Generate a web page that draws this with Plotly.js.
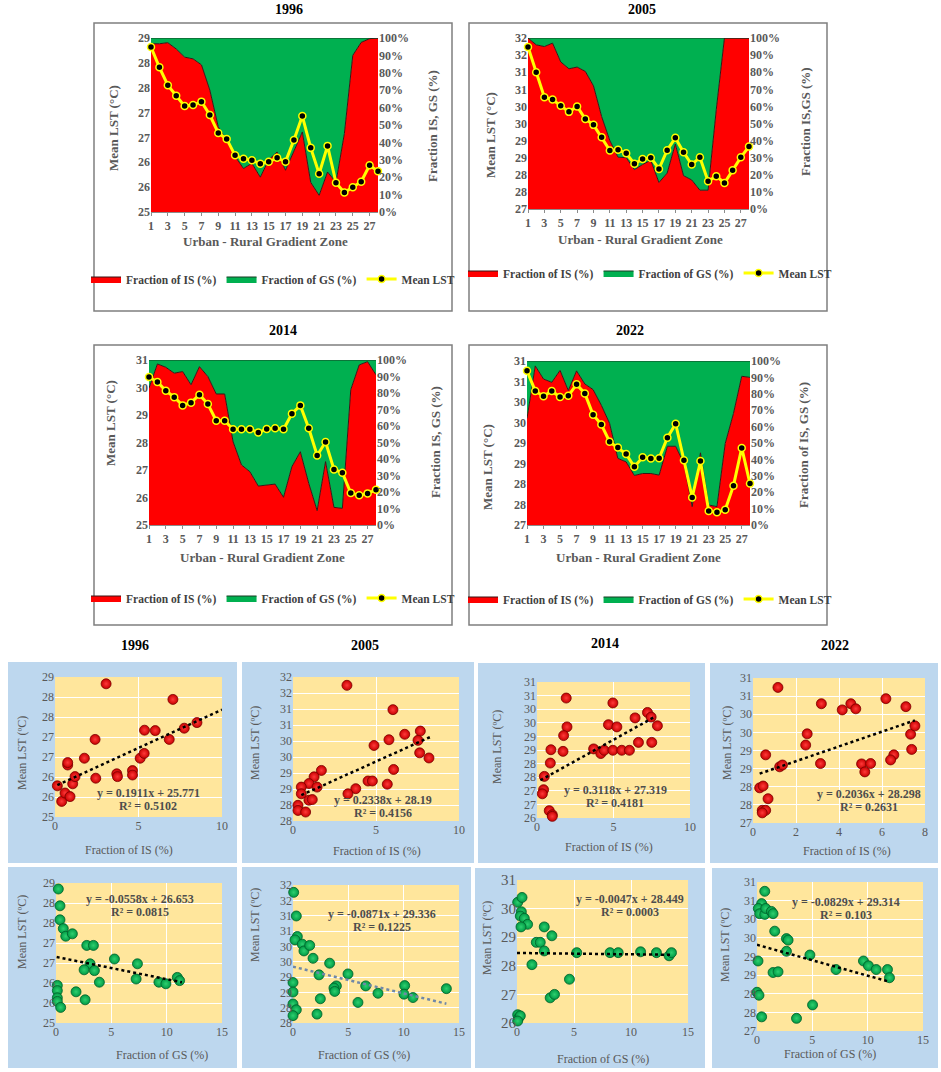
<!DOCTYPE html>
<html><head><meta charset="utf-8">
<script src="https://cdn.plot.ly/plotly-3.0.1.min.js"></script>
<style>html,body{margin:0;padding:0;background:#fff}#chart{width:941px;height:1072px}</style>
</head><body><div id="chart"></div>
<script>
// ---------------- DATA ----------------
const zones = [1,2,3,4,5,6,7,8,9,10,11,12,13,14,15,16,17,18,19,20,21,22,23,24,25,26,27,28];
const zoneTicks = [1,3,5,7,9,11,13,15,17,19,21,23,25,27];
const pctTicks = [0,10,20,30,40,50,60,70,80,90,100];

const lst1996 = [28.32,27.91,27.55,27.34,27.13,27.15,27.22,26.95,26.59,26.47,26.14,26.07,26.04,25.97,26.01,26.09,26.01,26.45,26.93,26.29,25.77,26.33,25.59,25.39,25.50,25.61,25.94,25.82];
const is1996  = [96.7,96.7,97.3,93.7,89,88,84.6,70,49,41,32,25,28,20,30,34.5,24,35.5,46,17,9.6,23,17,45,90,97.5,99.6,100];
const lst2005 = [31.74,31.0,30.27,30.2,30.02,29.84,30.0,29.63,29.46,29.1,28.71,28.73,28.63,28.32,28.46,28.5,28.17,28.72,29.08,28.66,28.3,28.51,27.81,27.96,27.76,28.13,28.51,28.83];
const is2005  = [100,96,95,97,86,82,83,80.5,72,54,40,30.3,30,23,26,28.5,15.5,21,38,19.5,17,11,11,58,100,100,100,100];
const lst2014 = [30.38,30.2,29.88,29.65,29.35,29.45,29.74,29.4,28.79,28.79,28.48,28.48,28.48,28.36,28.49,28.52,28.48,29.05,29.35,28.52,27.53,28.02,27.02,26.9,26.16,26.08,26.15,26.28];
const is2014  = [83,97.6,95.6,92,93,85,96,90,79.4,79.4,50.5,36.4,32.3,23.6,24.2,24.8,16.8,35.4,44.4,25.3,8.7,38.4,10.7,10.1,82,97,99,91];
const lst2022 = [30.76,30.27,30.14,30.27,30.12,30.15,30.43,30.21,29.69,29.45,29.03,28.89,28.73,28.42,28.65,28.62,28.63,29.13,29.47,28.58,27.67,28.56,27.34,27.31,27.37,27.96,28.88,28.01];
const is2022  = [65,97,89,87,94.3,82,94,86,82.6,73,62,40.6,38.5,30.2,31.4,31.4,30.4,48,48,37.5,11.2,44,12.2,11.2,49.7,68,90.7,90];

const lstTicks1996 = [25,25.5,26,26.5,27,27.5,28,28.5];
const lstLabels1996 = ['25','26','26','27','27','28','28','29'];
const lstTicks2005 = [27,27.5,28,28.5,29,29.5,30,30.5,31,31.5,32];
const lstLabels2005 = ['27','28','28','29','29','30','30','31','31','32','32'];
const lstTicks2014 = [25,26,27,28,29,30,31];
const lstLabels2014 = ['25','26','27','28','29','30','31'];
const lstTicks2022 = [27,27.5,28,28.5,29,29.5,30,30.5,31];
const lstLabels2022 = ['27','28','28','29','29','30','30','31','31'];
const scTicks2005 = [27.5,28,28.5,29,29.5,30,30.5,31,31.5,32];
const scLabels2005 = ['28','28','29','29','30','30','31','31','32','32'];
const scTicks2014 = [26,26.5,27,27.5,28,28.5,29,29.5,30,30.5,31];
const scLabels2014 = ['26','27','27','28','28','29','29','30','30','31','31'];

// scatter: Fraction of IS vs Mean LST
const is96x = [0.14,0.4,0.6,0.76,0.76,0.9,1.06,1.2,1.76,2.4,2.44,3.06,3.7,3.74,4.64,4.64,5.1,5.34,5.36,6.0,6.84,7.06,7.74,8.5];
const is96y = [25.78,25.39,25.6,26.3,26.36,25.51,25.83,26.01,26.47,26.94,25.97,28.33,26.08,26.01,26.16,26.05,26.47,26.59,27.17,27.16,26.94,27.94,27.22,27.36];
const is05x = [3.25,6.02,7.67,6.73,5.78,7.53,4.88,7.63,8.19,1.71,6.06,1.27,0.96,0.5,1.45,4.52,4.78,5.68,3.78,3.31,0.5,0.96,1.16,0.3,0.3,0.76];
const is05y = [31.74,30.98,30.31,30.21,30.04,30.02,29.86,29.63,29.47,29.08,29.11,28.88,28.67,28.56,28.56,28.75,28.75,28.65,28.51,28.35,28.35,28.15,28.17,27.99,27.83,27.78];
const is14x = [1.91,1.96,1.74,1.7,0.91,0.87,0.48,0.43,0.35,0.8,1.0,1.0,4.96,4.67,5.22,3.7,4.17,4.39,4.96,5.54,6.04,6.41,6.63,7.22,7.46,7.5,7.87];
const is14y = [30.41,29.35,29.03,28.45,28.51,28.02,27.53,27.04,26.89,26.27,26.12,26.06,30.23,29.43,29.35,28.54,28.37,28.49,28.49,28.49,28.49,29.68,28.78,29.88,29.71,28.78,29.39];
const is22x = [1.16,6.18,3.18,4.55,4.15,4.78,7.11,2.52,2.45,7.33,7.53,7.38,6.55,6.4,0.59,1.24,1.37,3.14,5.05,5.47,5.2,0.31,0.47,0.7,0.43,0.59,0.43];
const is22y = [30.74,30.43,30.29,30.29,30.12,30.15,30.21,29.46,29.15,29.45,29.68,29.03,28.88,28.74,28.88,28.55,28.6,28.64,28.63,28.64,28.41,27.97,28.02,27.67,27.35,27.35,27.28];
// scatter: Fraction of GS vs Mean LST
const gs96x = [0.21,0.36,0.36,0.66,0.88,1.48,2.78,3.38,3.08,2.54,3.47,3.92,5.28,7.36,7.24,9.3,9.93,10.96,11.17,0.12,0.12,0.12,0.12,0.42,1.81,2.63];
const gs96y = [28.35,27.93,27.58,27.36,27.17,27.23,26.94,26.94,26.48,26.33,26.31,26.02,26.6,26.48,26.1,26.02,25.98,26.14,26.06,25.94,25.81,25.63,25.54,25.39,25.78,25.58];
const gs05x = [0.06,0.3,0.39,0.18,0.84,0.99,1.51,1.81,3.31,2.35,4.97,3.92,3.7,3.77,6.57,7.68,10.09,10.03,10.84,13.86,2.47,5.87,2.17,0,0,0,0.3,0];
const gs05y = [31.76,30.99,30.32,30.21,30.07,29.85,30.03,29.61,29.45,29.07,29.1,28.71,28.64,28.53,28.71,28.47,28.72,28.44,28.33,28.62,28.29,28.17,27.79,28.82,28.51,28.12,27.93,27.74];
const gs14x = [0.06,0.44,0.38,0.29,0.64,0.93,0.35,2.39,3.06,1.69,2.04,2.39,1.31,4.6,2.91,3.29,5.24,8.16,8.88,10.84,12.23,13.34,13.55,0.06,0.15,0.29,0.06];
const gs14y = [30.22,30.39,29.89,29.74,29.66,29.45,29.36,29.36,29.05,28.82,28.82,28.52,28.04,27.53,26.88,27.0,28.46,28.46,28.46,28.49,28.46,28.35,28.46,26.29,26.18,26.25,26.07];
const gs22x = [0.7,0.42,0.12,0.24,0.7,0.79,1.3,1.45,1.6,2.66,2.81,2.66,4.78,7.14,9.62,10.07,10.77,11.79,11.97,1.45,1.9,0.09,0,0.18,0.42,3.57,5.02];
const gs22y = [30.75,30.42,30.29,30.15,30.13,30.29,30.21,30.15,29.68,29.48,29.44,29.14,29.04,28.65,28.88,28.75,28.65,28.65,28.43,28.57,28.59,28.88,28.04,27.96,27.38,27.34,27.7];

// trendline equations (as printed) and their x extents
const slopes     = [0.1911, 0.2338, 0.3118, 0.2036, -0.0558, -0.0871, -0.0047, -0.0829];
const intercepts = [25.771, 28.19, 27.319, 28.298, 26.653, 29.336, 28.449, 29.314];
const r2Texts    = ['0.5102','0.4156','0.4181','0.2631','0.0815','0.1225','0.0003','0.103'];
const trendX     = [[0.14,10],[0.5,8.3],[0.22,7.72],[0.31,7.53],[0.06,11.38],[0,13.86],[0,13.55],[0,11.97]];

// ---------------- LAYOUT HELPERS ----------------
const SERIF = 'Liberation Serif, Times New Roman, serif';
const W = 941, H = 1072;
const fx = v => v / W;
const fy = v => 1 - v / H;
const axn = (p, n) => (n === 1 ? p : p + n);

const areaCharts = [
  {year:'1996', lst:lst1996, is:is1996, range:[25,28.5], ticks:lstTicks1996, labels:lstLabels1996, right:'Fraction IS, GS (%)',
   plot:[151,378,38,212], box:[94,452,23,311], title:[289,10], lt:[113,128], rt:[433,126], xt:[265,241], leg:[273,279]},
  {year:'2005', lst:lst2005, is:is2005, range:[27,32], ticks:lstTicks2005, labels:lstLabels2005, right:'Fraction IS,GS (%)',
   plot:[528,749,38,209], box:[469,827,23,311], title:[642,10], lt:[490,135], rt:[805,122], xt:[640,240], leg:[650,273]},
  {year:'2014', lst:lst2014, is:is2014, range:[25,31], ticks:lstTicks2014, labels:lstLabels2014, right:'Fraction IS, GS (%)',
   plot:[149,376,360,525], box:[94,452,345,625], title:[283,331], lt:[110,423], rt:[435,442], xt:[262,557], leg:[273,598]},
  {year:'2022', lst:lst2022, is:is2022, range:[27,31], ticks:lstTicks2022, labels:lstLabels2022, right:'Fraction of IS, GS (%)',
   plot:[527,750,361,525], box:[469,827,345,625], title:[630,331], lt:[488,467], rt:[803,445], xt:[638,557], leg:[650,599]}
];

const scatters = [
  {x:is96x, y:is96y, kind:'IS', xr:[0,10], xt:[0,5,10], yr:[25,28.5], yt:lstTicks1996, yl:lstLabels1996,
   plot:[55,222,677,817], panel:[8,237,662,863], title:['1996',135,645], eq:[148,793], xtl:[129,850], ytl:[22,753], tc:'#000'},
  {x:is05x, y:is05y, kind:'IS', xr:[0,10], xt:[0,5,10], yr:[27.5,32], yt:scTicks2005, yl:scLabels2005,
   plot:[293,459,677,821], panel:[242,474,662,863], title:['2005',365,645], eq:[383,800], xtl:[377,851], ytl:[255,743], tc:'#000'},
  {x:is14x, y:is14y, kind:'IS', xr:[0,10], xt:[0,5,10], yr:[26,31], yt:scTicks2014, yl:scLabels2014,
   plot:[537,690,682,818], panel:[478,705,663,863], title:['2014',605,643], eq:[615,790], xtl:[609,847], ytl:[497,747], tc:'#000'},
  {x:is22x, y:is22y, kind:'IS', xr:[0,8], xt:[0,2,4,6,8], yr:[27,31], yt:lstTicks2022, yl:lstLabels2022,
   plot:[753,925,678,823], panel:[710,938,663,863], title:['2022',835,645], eq:[869,794], xtl:[847,851], ytl:[727,743], tc:'#000'},
  {x:gs96x, y:gs96y, kind:'GS', xr:[0,15], xt:[0,5,10,15], yr:[25,28.5], yt:lstTicks1996, yl:lstLabels1996,
   plot:[56,222,883,1023], panel:[8,237,867,1068], eq:[140,899], xtl:[162,1055], ytl:[22,932], tc:'#000'},
  {x:gs05x, y:gs05y, kind:'GS', xr:[0,15], xt:[0,5,10,15], yr:[27.5,32], yt:scTicks2005, yl:scLabels2005,
   plot:[293,459,885,1023], panel:[242,471,867,1068], eq:[382,914], xtl:[364,1055], ytl:[255,925], tc:'#7088A8'},
  {x:gs14x, y:gs14y, kind:'GS', xr:[0,15], xt:[0,5,10,15], yr:[26,31], yt:lstTicks2014.slice(1), yl:lstLabels2014.slice(1),
   plot:[517,688,880,1023], panel:[475,705,868,1068], eq:[630,899], xtl:[603,1059], ytl:[487,938], tc:'#000', ytsize:15},
  {x:gs22x, y:gs22y, kind:'GS', xr:[0,15], xt:[0,5,10,15], yr:[27,31], yt:lstTicks2022, yl:lstLabels2022,
   plot:[757,923,882,1031], panel:[712,938,868,1068], eq:[846,902], xtl:[830,1054], ytl:[725,945], tc:'#000'}
];

const traces = [];
const shapes = [];
const annotations = [];
const layout = {
  width: W, height: H, margin: {l:0, r:0, t:0, b:0},
  paper_bgcolor: '#ffffff', plot_bgcolor: 'rgba(0,0,0,0)',
  showlegend: true, hovermode: false
};

const tickFontBold = {family: SERIF, size: 12, color: '#595959', weight: 700};
const tickFontReg = {family: SERIF, size: 12, color: '#595959'};

function addText(text, x, y, font, angle) {
  annotations.push({xref:'paper', yref:'paper', x: fx(x), y: fy(y), text: text, showarrow: false,
    xanchor:'center', yanchor:'middle', textangle: angle || 0, font: font});
}

// ---------------- AREA CHARTS ----------------
areaCharts.forEach((c, i) => {
  const k = i + 1, yb = 2 * i + 1, yo = 2 * i + 2;
  const xa = 'x' + (k === 1 ? '' : k), ybase = 'y' + (yb === 1 ? '' : yb), yover = 'y' + yo;
  const leg = k === 1 ? 'legend' : 'legend' + k;
  const gs = c.is.map(v => 100 - v);
  traces.push({type:'scatter', mode:'lines', x: zones, y: c.is, xaxis: xa, yaxis: ybase, stackgroup: 'st' + k,
    name: 'Fraction of IS (%)', fillcolor: '#FF0000', line: {color: '#3a1414', width: 1}, legend: leg});
  traces.push({type:'scatter', mode:'lines', x: zones, y: gs, xaxis: xa, yaxis: ybase, stackgroup: 'st' + k,
    name: 'Fraction of GS (%)', fillcolor: '#00B050', line: {color: '#163a22', width: 1}, legend: leg});
  traces.push({type:'scatter', mode:'lines+markers', x: zones, y: c.lst, xaxis: xa, yaxis: yover,
    name: 'Mean LST', line: {color: '#FFFF00', width: 3},
    marker: {color: '#000000', size: 7, line: {color: '#FFFF00', width: 1.5}}, cliponaxis: false, legend: leg});

  const [l, r, t, b] = c.plot;
  layout[axn('xaxis', k)] = {domain: [fx(l), fx(r)], anchor: ybase, range: [1, 28], tickvals: zoneTicks,
    showgrid: false, zeroline: false, showline: true, linecolor: '#8c8c8c', ticks: 'outside', ticklen: 3,
    tickcolor: '#8c8c8c', tickfont: tickFontBold, fixedrange: true};
  layout[axn('yaxis', yb)] = {domain: [fy(b), fy(t)], anchor: xa, side: 'right', range: [0, 100],
    tickvals: pctTicks, ticktext: pctTicks.map(v => v + '%'), showgrid: false, zeroline: false,
    showline: false, tickfont: tickFontBold, fixedrange: true};
  layout[axn('yaxis', yo)] = {overlaying: ybase, anchor: xa, side: 'left', range: c.range,
    tickvals: c.ticks, ticktext: c.labels, showgrid: false, zeroline: false, showline: false,
    tickfont: tickFontBold, fixedrange: true};

  layout[leg] = {orientation: 'h', x: fx(c.leg[0]), xanchor: 'center', y: fy(c.leg[1]), yanchor: 'middle',
    font: {family: SERIF, size: 11.5, color: '#404040', weight: 700}, bgcolor: 'rgba(0,0,0,0)',
    traceorder: 'normal', itemwidth: 30, itemclick: false, itemdoubleclick: false};

  const [bl, br, bt, bb] = c.box;
  shapes.push({type:'rect', xref:'paper', yref:'paper', x0: fx(bl), x1: fx(br), y0: fy(bb), y1: fy(bt),
    line: {color: '#7f7f7f', width: 1.5}, fillcolor: 'rgba(0,0,0,0)', layer: 'above'});

  addText(c.year, c.title[0], c.title[1], {family: SERIF, size: 14, color: '#000', weight: 700});
  addText('Mean LST (°C)', c.lt[0], c.lt[1], {family: SERIF, size: 13, color: '#595959', weight: 700}, -90);
  addText(c.right, c.rt[0], c.rt[1], {family: SERIF, size: 13, color: '#595959', weight: 700}, -90);
  addText('Urban - Rural Gradient Zone', c.xt[0], c.xt[1], {family: SERIF, size: 13, color: '#595959', weight: 700});
});

// ---------------- SCATTER PANELS ----------------
scatters.forEach((s, j) => {
  const xn = 5 + j, yn = 9 + j;
  const xa = 'x' + xn, ya = 'y' + yn;
  const [pl, pr, pt, pb] = s.panel;
  shapes.push({type:'rect', xref:'paper', yref:'paper', x0: fx(pl), x1: fx(pr), y0: fy(pb), y1: fy(pt),
    fillcolor: '#BDD7EE', line: {width: 0}, layer: 'below'});
  shapes.push({type:'rect', xref: xa + ' domain', yref: ya + ' domain', x0: 0, x1: 1, y0: 0, y1: 1,
    fillcolor: '#FFE69C', line: {width: 0}, layer: 'below'});

  const isIS = s.kind === 'IS';
  traces.push({type:'scatter', mode:'markers', x: s.x, y: s.y, xaxis: xa, yaxis: ya, showlegend: false,
    cliponaxis: false,
    marker: {size: 10, color: isIS ? '#C80000' : '#009A44',
      gradient: {type: 'radial', color: isIS ? '#FF3A3A' : '#2ED070'},
      line: {color: isIS ? '#7a0000' : '#00602a', width: 0.8}}});
  const tx = trendX[j];
  traces.push({type:'scatter', mode:'lines', x: tx, y: tx.map(v => slopes[j] * v + intercepts[j]),
    xaxis: xa, yaxis: ya, showlegend: false, cliponaxis: false,
    line: {color: s.tc, width: 2.5, dash: 'dot'}});

  const [l, r, t, b] = s.plot;
  layout[axn('xaxis', xn)] = {domain: [fx(l), fx(r)], anchor: ya, range: s.xr, tickvals: s.xt,
    showgrid: true, gridcolor: '#FFFFFF', gridwidth: 1, zeroline: false, showline: false, ticks: '',
    tickfont: tickFontReg, fixedrange: true};
  layout[axn('yaxis', yn)] = {domain: [fy(b), fy(t)], anchor: xa, range: s.yr, tickvals: s.yt, ticktext: s.yl,
    showgrid: true, gridcolor: '#FFFFFF', gridwidth: 1, zeroline: false, showline: false, ticks: '',
    tickfont: {family: SERIF, size: s.ytsize || 12, color: '#595959'}, fixedrange: true};

  if (s.title) addText(s.title[0], s.title[1], s.title[2], {family: SERIF, size: 14, color: '#000', weight: 700});
  const sign = slopes[j] < 0 ? '-' : '';
  const eqText = 'y = ' + sign + Math.abs(slopes[j]) + 'x + ' + intercepts[j];
  addText(eqText, s.eq[0], s.eq[1], {family: SERIF, size: 12, color: '#4d4d4d', weight: 700});
  addText('R² = ' + r2Texts[j], s.eq[0], s.eq[1] + 13, {family: SERIF, size: 12, color: '#4d4d4d', weight: 700});
  addText(isIS ? 'Fraction of IS (%)' : 'Fraction of GS (%)', s.xtl[0], s.xtl[1], {family: SERIF, size: 12, color: '#595959'});
  addText('Mean LST (ºC)', s.ytl[0], s.ytl[1], {family: SERIF, size: 12, color: '#595959'}, -90);
});

layout.shapes = shapes;
layout.annotations = annotations;

Plotly.newPlot('chart', traces, layout, {displayModeBar: false, staticPlot: true});
</script></body></html>
